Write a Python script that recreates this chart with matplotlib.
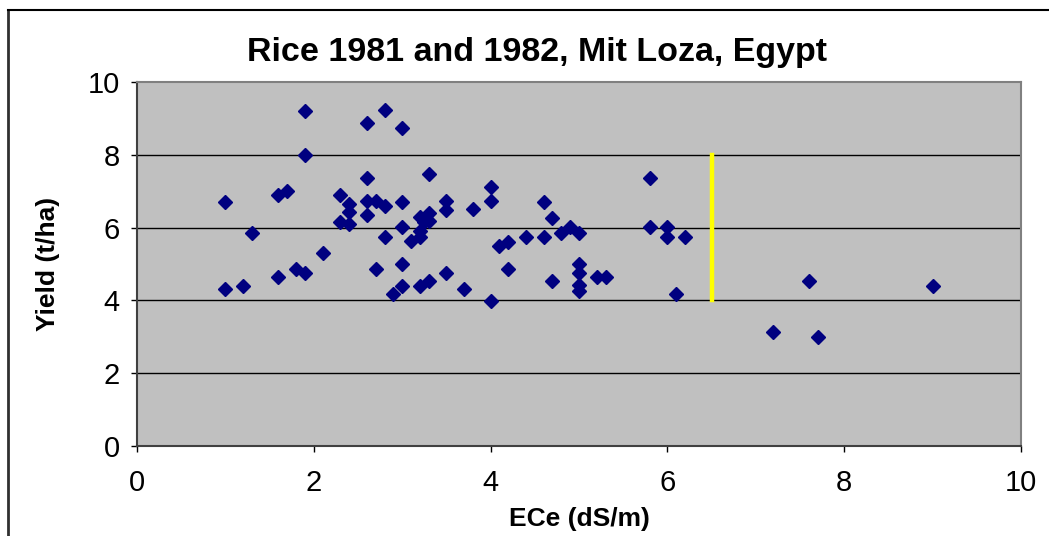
import matplotlib
matplotlib.use("Agg")
import matplotlib.pyplot as plt
from matplotlib.lines import Line2D

plt.rcParams['font.family'] = ['Liberation Sans', 'DejaVu Sans']

ece = [1.0, 1.0, 1.2, 1.3, 1.6, 1.7, 1.6, 1.8, 1.9, 1.9, 1.9, 2.1,
       2.3, 2.3, 2.4, 2.4, 2.4, 2.6, 2.6, 2.6, 2.6, 2.7, 2.7, 2.8, 2.8, 2.8, 2.9,
       3.0, 3.0, 3.0, 3.0, 3.0, 3.1, 3.2, 3.2, 3.2, 3.2, 3.25, 3.3, 3.3, 3.3, 3.3,
       3.5, 3.5, 3.5, 3.7, 3.8, 4.0, 4.0, 4.0, 4.1, 4.2, 4.2, 4.4,
       4.6, 4.6, 4.7, 4.7, 4.8, 4.9, 5.0, 5.0, 5.0, 5.0, 5.0, 5.2, 5.3,
       5.8, 5.8, 6.0, 6.0, 6.2, 6.1, 7.2, 7.6, 7.7, 9.0]
yield_t = [6.7, 4.3, 4.4, 5.85, 6.9, 7.0, 4.63, 4.87, 4.75, 9.2, 8.0, 5.3,
           6.9, 6.15, 6.65, 6.42, 6.1, 8.87, 7.35, 6.74, 6.35, 6.74, 4.87, 9.22, 6.58, 5.74, 4.17,
           8.75, 6.71, 6.03, 5.0, 4.4, 5.62, 6.3, 5.92, 5.74, 4.4, 6.15, 7.48, 6.39, 6.18, 4.53,
           6.72, 6.48, 4.75, 4.3, 6.5, 7.12, 6.72, 3.99, 5.49, 5.6, 4.86, 5.74,
           6.7, 5.74, 6.27, 4.53, 5.85, 6.03, 5.85, 5.0, 4.75, 4.42, 4.26, 4.63, 4.63,
           7.36, 6.03, 6.03, 5.74, 5.74, 4.17, 3.12, 4.53, 3.0, 4.4]

threshold_x = [6.5, 6.5]
threshold_y = [4.0, 8.0]

x_ticks = [0, 2, 4, 6, 8, 10]
y_ticks = [0, 2, 4, 6, 8, 10]

W, H = 1049, 536
fig = plt.figure(figsize=(W / 100, H / 100), dpi=100)
fig.patch.set_facecolor('white')

left, right, top, bottom = 137, 1021, 82, 446
ax = fig.add_axes([left / W, 1 - bottom / H, (right - left) / W, (bottom - top) / H])
ax.set_facecolor('#C0C0C0')

for gy in [2, 4, 6, 8]:
    ax.axhline(gy, color='black', linewidth=1.0, zorder=1)

ax.plot(ece, yield_t, linestyle='none', marker='D', markersize=7.5,
        color='#000080', markeredgecolor='#000080', zorder=3)
ax.plot(threshold_x, threshold_y, color='#FFFF00', linewidth=3.2, zorder=2)

ax.set_xlim(0, 10)
ax.set_ylim(0, 10)
ax.set_xticks(x_ticks)
ax.set_yticks(y_ticks)
ax.set_xticklabels([str(t) for t in x_ticks])
ax.set_yticklabels([str(t) for t in y_ticks])
ax.tick_params(axis='both', direction='out', length=4.5, width=1, color='black',
               labelsize=21)
ax.tick_params(axis='y', pad=8)
ax.tick_params(axis='x', pad=12)

for s in ['top', 'right']:
    ax.spines[s].set_color('#808080')
    ax.spines[s].set_linewidth(1.5)
ax.spines['left'].set_color('#404040')
ax.spines['left'].set_linewidth(1.5)
ax.spines['bottom'].set_color('#404040')
ax.spines['bottom'].set_linewidth(1.5)

ax.set_xlabel('ECe (dS/m)', fontsize=19, fontweight='bold')
ax.set_ylabel('Yield (t/ha)', fontsize=19, fontweight='bold')
ax.xaxis.set_label_coords(0.5, -(507 - bottom) / (bottom - top))
ax.yaxis.set_label_coords(-(137 - 60) / (right - left), 0.5)

fig.text(537 / W, 1 - 52 / H, 'Rice 1981 and 1982, Mit Loza, Egypt',
         ha='center', va='center', fontsize=24.5, fontweight='bold')

# chart area border (left and top)
fig.add_artist(Line2D([8 / W, 8 / W], [0, 1 - 10 / H], transform=fig.transFigure,
                      color='#303030', linewidth=2))
fig.add_artist(Line2D([8 / W, 1], [1 - 10 / H, 1 - 10 / H], transform=fig.transFigure,
                      color='black', linewidth=1.5))

fig.savefig('out.png', dpi=100)
